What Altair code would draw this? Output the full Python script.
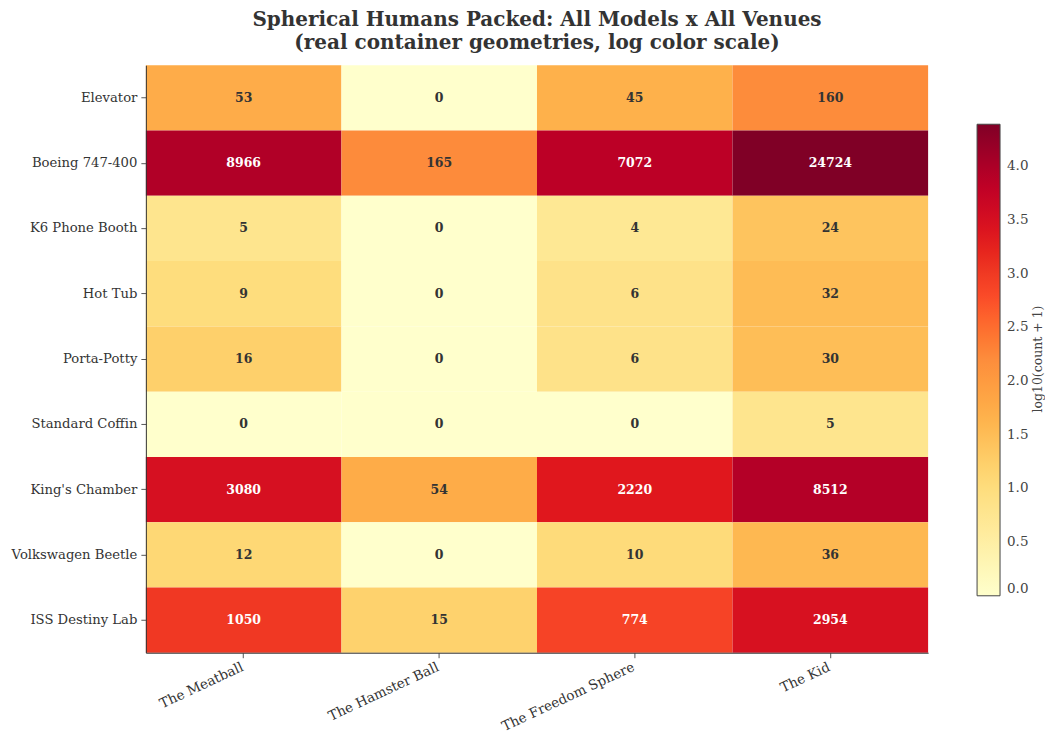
import altair as alt
import pandas as pd
import numpy as np

rows = ["Elevator", "Boeing 747-400", "K6 Phone Booth", "Hot Tub", "Porta-Potty",
        "Standard Coffin", "King's Chamber", "Volkswagen Beetle", "ISS Destiny Lab"]
cols = ["The Meatball", "The Hamster Ball", "The Freedom Sphere", "The Kid"]
meatball = [53, 8966, 5, 9, 16, 0, 3080, 12, 1050]
hamster = [0, 165, 0, 0, 0, 0, 54, 0, 15]
freedom = [45, 7072, 4, 6, 6, 0, 2220, 10, 774]
kid = [160, 24724, 24, 32, 30, 5, 8512, 36, 2954]

series = [meatball, hamster, freedom, kid]
recs = []
for c, vals in zip(cols, series):
    for r, v in zip(rows, vals):
        recs.append({"venue": c, "model": r, "count": v, "logv": float(np.log10(v + 1))})
df = pd.DataFrame(recs)

vmax = float(df["logv"].max())
ylorrd = ["#ffffcc", "#ffeda0", "#fed976", "#feb24c", "#fd8d3c",
          "#fc4e2a", "#e31a1c", "#bd0026", "#800026"]
dom = [vmax * i / 8 for i in range(9)]

FONT = "DejaVu Serif"
W, H = 783, 588

base = alt.Chart(df)

rect = base.mark_rect().encode(
    x=alt.X("venue:N", sort=cols, title=None,
            axis=alt.Axis(labelAngle=-25, labelAlign="right", labelBaseline="top",
                          labelFontSize=13.5, labelColor="#333", tickColor="#555",
                          tickSize=5, domainColor="#333", labelPadding=2, labelOffset=-4)),
    y=alt.Y("model:N", sort=rows, title=None,
            axis=alt.Axis(labelFontSize=13.2, labelColor="#333", tickColor="#555",
                          tickSize=5, domainColor="#333", labelPadding=4,
                          minExtent=132, maxExtent=132)),
    color=alt.Color("logv:Q", title=None,
                    scale=alt.Scale(domain=dom, range=ylorrd),
                    legend=alt.Legend(orient="none", legendX=832, legendY=59,
                                      gradientLength=472, gradientThickness=23,
                                      gradientStrokeColor="#444", gradientStrokeWidth=1,
                                      values=[0, 0.5, 1, 1.5, 2, 2.5, 3, 3.5, 4],
                                      format=".1f", labelFontSize=13.5, labelColor="#444",
                                      labelFont=FONT, labelOffset=7, direction="vertical")),
)

text = base.mark_text(font=FONT, fontSize=12.5, fontWeight="bold").encode(
    x=alt.X("venue:N", sort=cols),
    y=alt.Y("model:N", sort=rows),
    text=alt.Text("count:Q"),
    color=alt.condition(alt.datum.count > 500, alt.value("white"), alt.value("#333")),
)

cbtitle = alt.Chart(pd.DataFrame({"t": ["log10(count + 1)"]})).mark_text(
    font=FONT, fontSize=12.5, color="#444", angle=270, align="center", baseline="middle"
).encode(x=alt.value(893), y=alt.value(294), text="t:N")

chart = alt.layer(rect, text, cbtitle).properties(
    width=W, height=H,
    padding={"left": 3, "top": 2, "right": 0, "bottom": 0},
    title=alt.TitleParams(
        text=["Spherical Humans Packed: All Models x All Venues",
              "(real container geometries, log color scale)"],
        font=FONT, fontSize=20, fontWeight="bold", color="#333",
        anchor="middle", offset=12, lineHeight=23),
).configure_view(stroke=None).configure_axis(
    labelFont=FONT, grid=False
)

chart.save("out.html", embed_options={"renderer": "svg", "actions": False})
